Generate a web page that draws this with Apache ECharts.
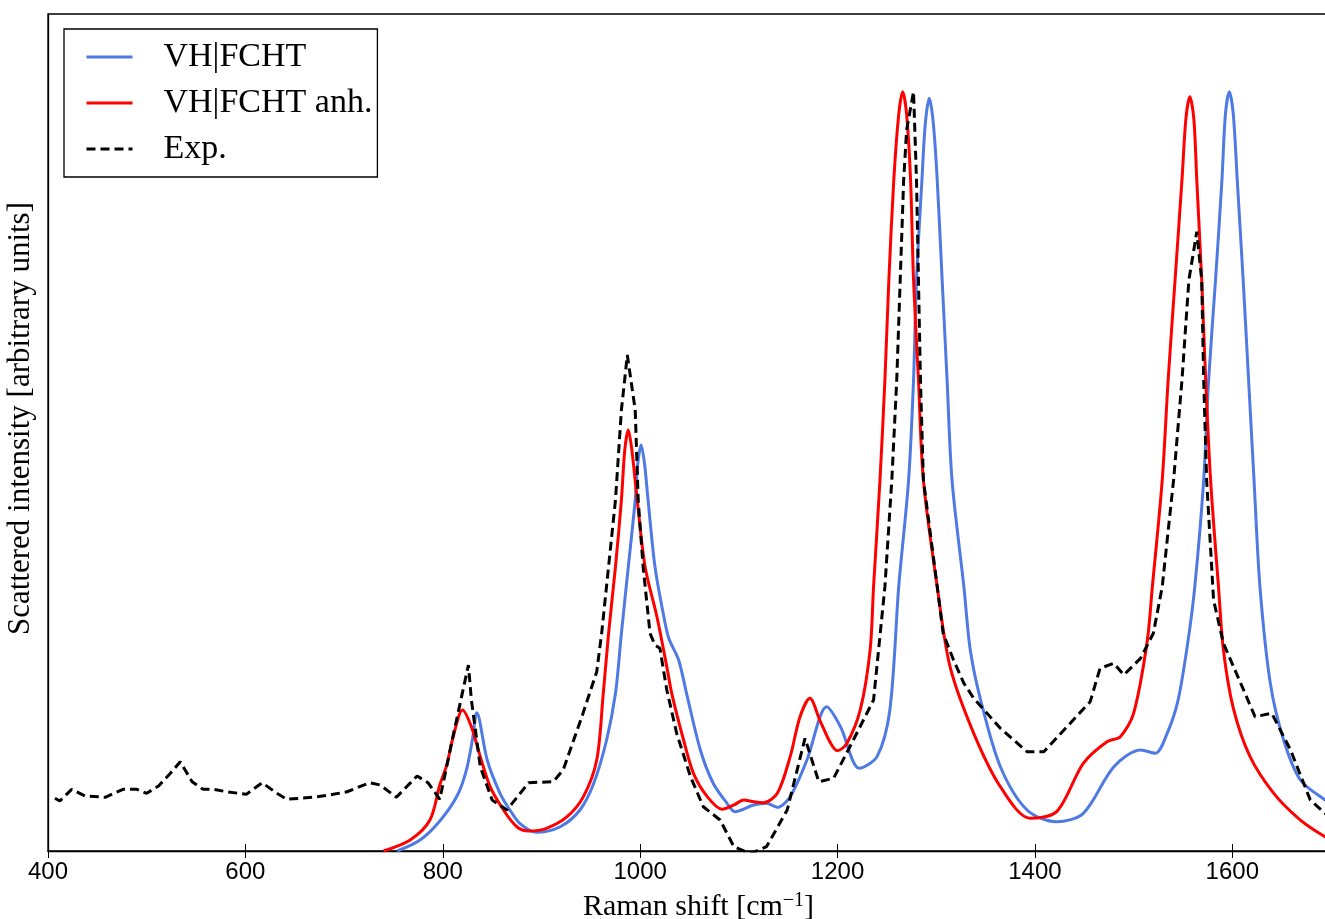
<!DOCTYPE html>
<html>
<head>
<meta charset="utf-8">
<script src="https://cdn.jsdelivr.net/npm/echarts@6/dist/echarts.min.js"></script>
<style>
  html, body { margin: 0; padding: 0; background: #fff; }
  #chart { width: 1325px; height: 919px; }
</style>
</head>
<body>
<div id="chart"></div>
<script>
  // Raman shift [cm-1] and intensity (arbitrary units, 0..100 = plot height)
  var vhX = [754, 777, 797, 815, 824, 830, 834.5, 845, 858, 868, 878, 895, 919, 939, 953, 966, 975, 981, 988, 995,
    997.5, 1001, 1004.5, 1008, 1015, 1024, 1029, 1039, 1047, 1061, 1074, 1088, 1096, 1115, 1128, 1139, 1152, 1169,
    1189, 1203, 1222, 1240, 1253, 1262, 1272, 1277, 1280, 1285.5, 1289, 1293, 1297, 1301, 1306, 1311, 1316, 1328,
    1334.5, 1345, 1365, 1392, 1422, 1449, 1480, 1507, 1522, 1534, 1545, 1555, 1562, 1571, 1576, 1583, 1589.5, 1593,
    1597, 1601, 1605, 1611, 1616.5, 1622, 1628, 1638.5, 1652, 1669, 1694, 1700];
  var vhY = [0, 1.31, 3.58, 6.69, 9.68, 13.26, 16.52, 10.87, 6.89, 4.90, 3.31, 2.23, 2.90, 4.90, 8.09, 13.26, 18.84,
    26.01, 33.97, 41.94, 46.2, 48.51, 46.2, 41.94, 33.97, 27.99, 25.41, 22.82, 18.84, 12.07, 8.09, 5.70, 4.70, 5.50,
    5.70, 5.22, 6.49, 10.87, 17.24, 14.85, 9.88, 11.27, 16.85, 31.58, 44.32, 56.27, 68.22, 80.17, 87.0, 89.93, 87.0,
    80.17, 68.22, 56.27, 44.32, 31.58, 24.01, 18.04, 10.07, 4.90, 3.50, 4.50, 10.07, 12.07, 11.67, 14.06, 18.0, 25.0,
    31.58, 44.32, 56.27, 68.22, 80.17, 88.0, 90.72, 88.0, 80.17, 68.22, 56.27, 44.32, 31.58, 20.04, 13.26, 8.48, 6.09,
    5.8];

  var anhX = [740, 767, 787, 797, 804, 811, 820, 829, 838, 848, 861.5, 875, 887, 905, 926, 942.5, 956, 962.5, 968,
    975, 981, 984.5, 988, 991.5, 997, 1005, 1017, 1027, 1032, 1044, 1054, 1068, 1083, 1095, 1105, 1115, 1125, 1139,
    1152, 1162, 1172, 1182, 1193, 1200, 1209.5, 1223, 1233, 1236.5, 1243, 1248, 1252, 1257, 1262, 1266, 1270, 1274,
    1277, 1282, 1287, 1301, 1314, 1338, 1365, 1395, 1422, 1449, 1473, 1486.5, 1500, 1513.5, 1519, 1529, 1535, 1542,
    1549, 1553, 1557, 1561, 1564, 1569, 1573, 1578, 1586, 1591, 1601, 1618, 1642, 1669, 1694, 1700];
  var anhY = [0, 1.31, 3.70, 7.89, 10.27, 13.86, 16.85, 14.85, 11.27, 7.68, 4.90, 2.90, 2.39, 2.71, 4.10, 6.49, 10.87,
    18.64, 26.01, 33.97, 41.94, 48.0, 50.30, 48.0, 41.94, 33.97, 27.99, 22.02, 18.84, 13.26, 9.28, 6.49, 4.98, 5.50,
    6.09, 5.89, 5.77, 6.89, 11.27, 16.05, 18.24, 15.65, 12.87, 11.98, 12.87, 16.85, 24.01, 31.58, 44.32, 56.27, 68.22,
    80.17, 88.0, 90.72, 88.0, 80.17, 68.22, 56.27, 44.32, 31.58, 22.02, 14.06, 7.68, 3.91, 4.70, 10.48, 13.06, 13.66,
    16.45, 24.81, 31.58, 44.32, 56.27, 68.22, 80.17, 87.5, 90.12, 87.5, 80.17, 68.22, 56.27, 44.32, 31.58, 24.01,
    17.08, 11.27, 6.89, 3.70, 1.71, 1.5];

  var expX = [407, 412, 424, 437.5, 458, 476, 490, 500, 512, 524, 534, 546, 557, 567.5, 581, 601, 617, 632, 642, 669,
    689, 703, 726, 736.5, 753, 774, 785, 797, 811, 826, 829, 838, 850, 865, 887, 912, 922, 941, 956, 961, 968, 975,
    981, 987, 995, 998, 1003, 1010, 1015, 1020, 1027, 1037, 1051, 1064, 1081, 1095, 1111.5, 1128, 1149, 1167, 1181,
    1196, 1216, 1236.5, 1248, 1255, 1260, 1263.5, 1267, 1270, 1277, 1280, 1282, 1284, 1287, 1301, 1307, 1317.5, 1328,
    1338, 1365, 1392, 1409, 1432.5, 1456, 1466, 1480, 1490, 1507, 1520, 1529, 1540.5, 1549, 1556, 1564, 1569, 1571,
    1574, 1581, 1591, 1610, 1623, 1640, 1659, 1679, 1694, 1700];
  var expY = [6.30, 5.97, 7.37, 6.57, 6.42, 7.37, 7.37, 6.89, 7.77, 9.28, 10.67, 8.28, 7.37, 7.37, 7.08, 6.77, 8.16,
    6.89, 6.18, 6.42, 6.77, 7.08, 8.16, 7.89, 6.42, 8.96, 8.16, 6.18, 14.06, 22.22, 18.04, 10.07, 6.09, 4.90, 8.16,
    8.28, 9.68, 16.05, 21.42, 26.01, 33.97, 41.94, 52.69, 59.26, 52.69, 41.94, 33.97, 26.01, 24.61, 24.22, 19.24,
    14.06, 8.88, 5.29, 3.70, 0.51, -0.3, 0.51, 4.90, 13.46, 8.28, 8.69, 13.26, 18.04, 31.58, 44.32, 56.27, 68.22,
    80.17, 86.14, 90.72, 80.17, 68.22, 56.27, 44.32, 31.58, 26.01, 22.82, 20.04, 18.24, 14.66, 11.86, 11.86, 14.85,
    17.84, 21.83, 22.43, 21.03, 23.02, 26.01, 31.58, 44.32, 56.27, 68.22, 73.99, 68.22, 56.27, 44.32, 29.99, 24.81,
    19.63, 16.05, 16.45, 12.07, 6.09, 4.50, 4.2];

  var xTicks = [400, 600, 800, 1000, 1200, 1400, 1600];

  function zip(xs, ys) {
    return xs.map(function (x, i) { return [x, ys[i]]; });
  }

  var serif = "Liberation Serif";
  var chart = echarts.init(document.getElementById("chart"));
  var option = {
    backgroundColor: "#fff",
    animation: false,
    grid: {
      left: 48,
      top: 14,
      right: -6,
      bottom: 68,
      outerBoundsMode: "none",
      show: true,
      borderColor: "#000",
      borderWidth: 1.3,
    },
    legend: {
      left: 64,
      top: 29,
      orient: "vertical",
      padding: [11, 5, 11, 21],
      itemWidth: 46,
      itemHeight: 14,
      itemGap: 12,
      borderColor: "#000",
      borderWidth: 1.3,
      backgroundColor: "#fff",
      itemStyle: { color: "rgba(0,0,0,0)", borderWidth: 0 },
      lineStyle: { width: 3 },
      textStyle: {
        fontFamily: serif,
        fontSize: 34,
        color: "#000",
        padding: [0, 0, 0, 26],
      },
      data: ["VH|FCHT", "VH|FCHT anh.", "Exp."],
    },
    xAxis: [
      {
        type: "value",
        min: 400,
        max: 1700,
        interval: 200,
        name: "Raman shift [cm{sup|−1}]",
        nameLocation: "middle",
        nameGap: 40,
        nameTextStyle: {
          fontFamily: serif,
          fontSize: 30,
          color: "#000",
          padding: [0, 0, 0, 18],
          rich: {
            sup: { fontFamily: serif, fontSize: 20, verticalAlign: "top", padding: [0, 0, 12, 0] },
          },
        },
        axisLine: { show: true, onZero: false, lineStyle: { color: "#000", width: 1.3 } },
        axisTick: { show: true, inside: true, length: 7, lineStyle: { color: "#000", width: 1 } },
        axisLabel: {
          showMaxLabel: false,
          margin: 9,
          fontFamily: "Liberation Sans",
          fontSize: 24,
          color: "#000",
          formatter: function (v) {
            return xTicks.indexOf(v) >= 0 ? String(v) : "";
          },
        },
        splitLine: { show: false },
      },
      {
        type: "value",
        position: "top",
        min: 400,
        max: 1700,
        interval: 200,
        axisLine: { show: false },
        axisTick: { show: true, inside: true, length: 7, lineStyle: { color: "#000", width: 1 } },
        axisLabel: { show: false },
        splitLine: { show: false },
      },
    ],
    yAxis: {
      type: "value",
      min: 0,
      max: 100,
      name: "Scattered intensity [arbitrary units]",
      nameLocation: "middle",
      nameGap: 12,
      nameTextStyle: { fontFamily: serif, fontSize: 31, color: "#000", padding: [0, 0, 0, 28] },
      axisLine: { show: true, lineStyle: { color: "#000", width: 1.3 } },
      axisTick: { show: false },
      axisLabel: { show: false },
      splitLine: { show: false },
    },
    series: [
      {
        name: "VH|FCHT",
        type: "line",
        data: zip(vhX, vhY),
        symbol: "none",
        smooth: 0.3,
        lineStyle: { color: "#4f7ae3", width: 3 },
        itemStyle: { color: "#4f7ae3" },
        z: 3,
      },
      {
        name: "VH|FCHT anh.",
        type: "line",
        data: zip(anhX, anhY),
        symbol: "none",
        smooth: 0.3,
        lineStyle: { color: "#ff0000", width: 3 },
        itemStyle: { color: "#ff0000" },
        z: 4,
      },
      {
        name: "Exp.",
        type: "line",
        data: zip(expX, expY),
        symbol: "none",
        lineStyle: { color: "#000", width: 3, type: [9, 5] },
        itemStyle: { color: "#000" },
        z: 5,
      },
    ],
  };
  chart.setOption(option);
</script>
</body>
</html>
